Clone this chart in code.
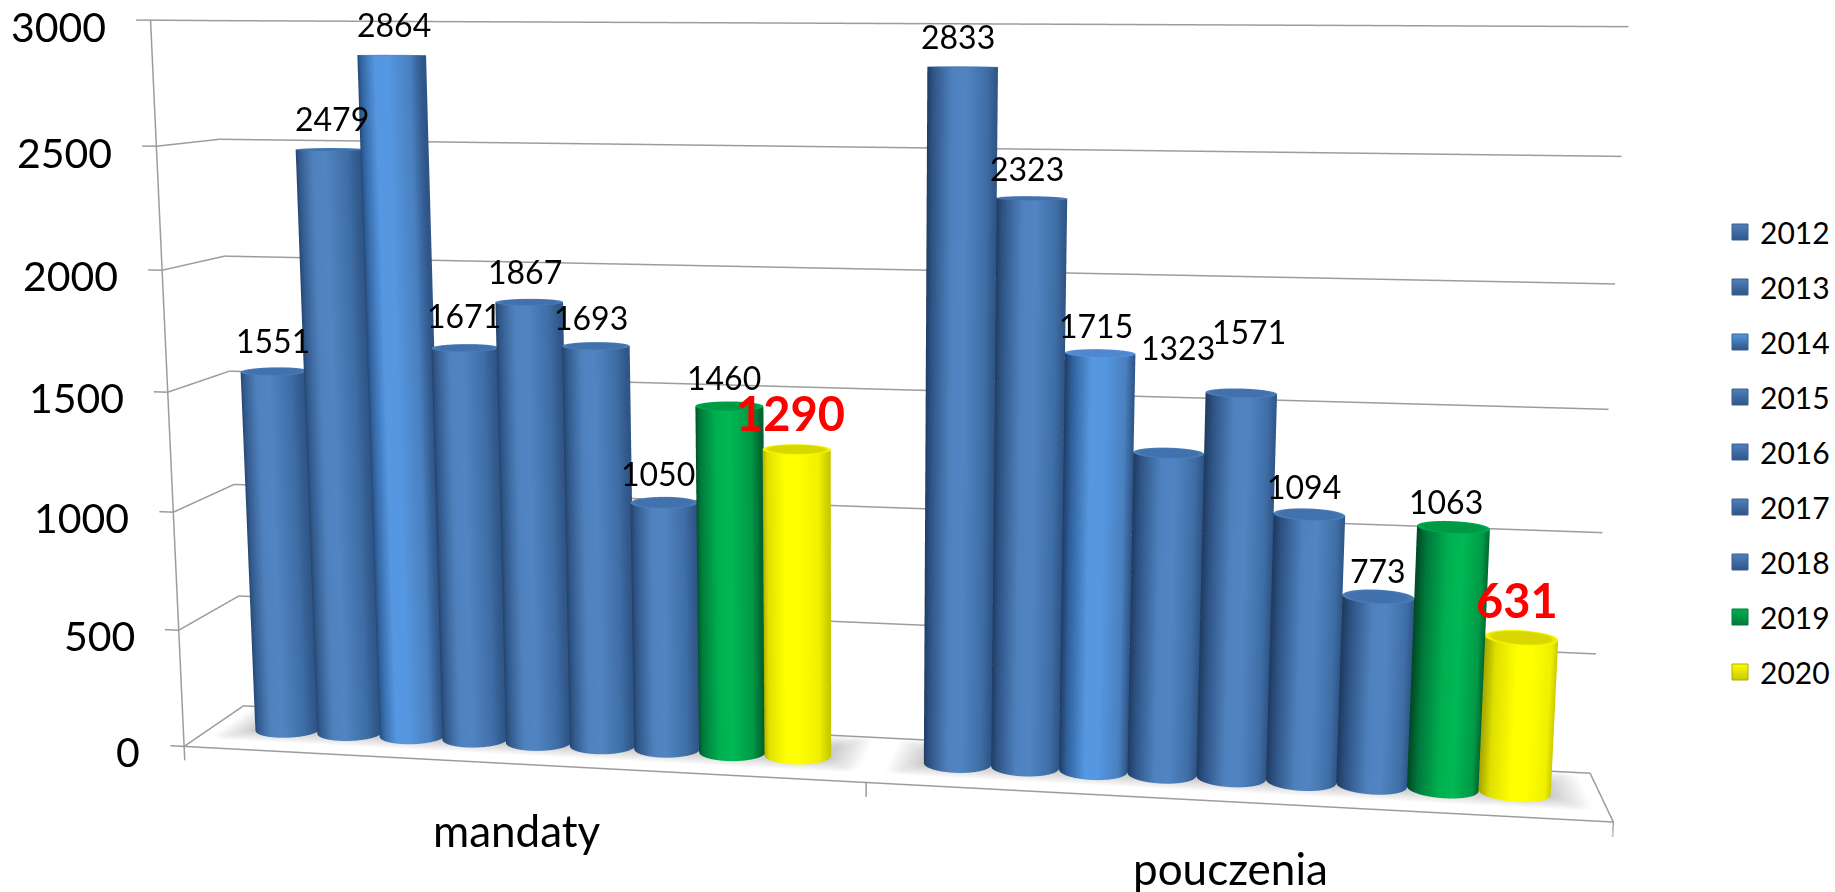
import numpy as np, plotly.graph_objects as go

categories = ["mandaty", "pouczenia"]
years = ["2012","2013","2014","2015","2016","2017","2018","2019","2020"]
mandaty = [1551,2479,2864,1671,1867,1693,1050,1460,1290]
pouczenia = [2833,2323,1715,1323,1571,1094,773,1063,631]
z_ticks = [0,500,1000,1500,2000,2500,3000]
label_dx = [-1,2,2,-1,-4,-5,-6,-5,-6, -5,-5,-4,9,8,-5,0,-7,-5]
label_dy = [31,31,31,32,31,28,29,29,36, 30,30,28,106,62,28,26,26,38]

W=1835; H=1823; TOP=-558
XR=(-0.05,2.0); YR=(-0.1,1.0); ZR=(-100.0,3100.0)
def py2paper(y): return 1-(y-TOP)/H
def px2paper(x): return x/W

traces=[]
gc='#9c9c9c'
def line(xs,ys,zs):
    traces.append(go.Scatter3d(x=xs,y=ys,z=zs,mode='lines',line=dict(color=gc,width=3),showlegend=False,hoverinfo='skip'))
for t in z_ticks:
    line([-0.021,0,0,2],[0,0,1,1],[t,t,t,t])
line([0,0],[0,0],[-60,3000]); line([0,2,2],[0,0,1],[0,0,0]); line([2,2],[0,0],[0,-60]); line([1,1],[0,0],[0,-60])

blue=[[0,'#1f3a5f'],[.12,'#2f5587'],[.4,'#4f81bd'],[.6,'#5185c2'],[.88,'#3f6ea6'],[1,'#2f5587']]
blue2=[[0,'#1f3a5f'],[.12,'#2f5f9a'],[.4,'#5597e0'],[.6,'#5597e0'],[.88,'#4a80c0'],[1,'#2f5587']]
green=[[0,'#004a24'],[.12,'#007a3c'],[.4,'#00b050'],[.6,'#00b854'],[.88,'#009a46'],[1,'#00602f']]
yellow=[[0,'#a8a800'],[.12,'#e0e000'],[.4,'#ffff00'],[.6,'#ffff00'],[.88,'#f0f000'],[1,'#c8c800']]
sty=[blue,blue,blue2,blue,blue,blue,blue,green,yellow]
capc=['#4272ad','#4272ad','#4f88d0','#4272ad','#4272ad','#4272ad','#4272ad','#009a45','#d8d800']
legc=['#4f81bd','#4f81bd','#5597e0','#4f81bd','#4f81bd','#4f81bd','#4f81bd','#00b050','#ffff00']
gap=1.4; pitch=1/(9+gap); ry=0.2; yc=0.5
th=np.linspace(0,2*np.pi,37)
lit=dict(ambient=1,diffuse=0,specular=0,roughness=1,fresnel=0)
annots=[]
for ci,vals in enumerate([mandaty,pouczenia]):
    x0=ci+gap/2*pitch-0.05; x1=ci+1-gap/2*pitch+0.05; y0=0.18; y1=1.0
    SX,SY=np.meshgrid(np.linspace(x0,x1,40),np.linspace(y0,y1,16))
    SC=np.clip(np.minimum(np.minimum(SX-x0,x1-SX)/0.05,np.minimum(SY-y0,y1-SY)/0.25),0,1)
    traces.append(go.Surface(x=SX,y=SY,z=np.full_like(SX,1.0),surfacecolor=SC,colorscale=[[0,'#8c8c8c'],[1,'#8c8c8c']],opacityscale=[[0,0],[1,0.45]],cmin=0,cmax=1,showscale=False,lighting=lit,hoverinfo='skip'))
    for i,v in enumerate(vals):
        cx=ci+(gap/2+i+.5)*pitch; rx=pitch/2
        X=np.array([cx+rx*np.cos(th)]*2);Y=np.array([yc+ry*np.sin(th)]*2);Z=np.array([np.zeros_like(th),np.full_like(th,v)])
        C=np.array([(np.cos(th)+1)/2]*2)
        traces.append(go.Surface(x=X,y=Y,z=Z,surfacecolor=C,colorscale=sty[i],cmin=0,cmax=1,showscale=False,lighting=lit,hoverinfo='skip'))
        rr=np.array([0,.8,1.0])
        XX=cx+np.outer(rr,rx*np.cos(th));YY=yc+np.outer(rr,ry*np.sin(th));ZZ=np.full_like(XX,v)
        traces.append(go.Surface(x=XX,y=YY,z=ZZ,surfacecolor=np.outer(rr,np.ones_like(th)),colorscale=[[0,capc[i]],[.8,capc[i]],[1,legc[i]]],cmin=0,cmax=1,showscale=False,lighting=lit,hoverinfo='skip'))
        big = i==8
        annots.append(dict(x=cx,y=yc,z=v,text=str(v),showarrow=False,xanchor='center',yanchor='middle',xshift=label_dx[ci*9+i],yshift=label_dy[ci*9+i],
            font=dict(family='Lato',size=47 if big else 32,color='#ff0000' if big else '#000000',weight='bold' if big else 'normal')))
for t in z_ticks:
    annots.append(dict(x=-0.021,y=0,z=t,text=str(t),showarrow=False,xanchor='right',yanchor='middle',xshift=-28,yshift=-6,font=dict(family='Lato',size=41,color='#000')))
for ci,name in enumerate(categories):
    annots.append(dict(x=ci+.5,y=0,z=0,text=name,showarrow=False,xanchor='center',yanchor='middle',xshift=0,yshift=-66,font=dict(family='Lato',size=44,color='#000')))
for i,y in enumerate(years):
    traces.append(go.Scatter(x=[None],y=[None],mode='markers',name=y,legendgroup=y,marker=dict(symbol='square',size=16,color=legc[i],gradient=dict(type='vertical',color=('#2f5587' if i<7 else ('#007a3c' if i==7 else '#c8c800'))),line=dict(color='#3a5f8a' if i<7 else ('#007a3c' if i==7 else '#b0b000'),width=1))))
fig=go.Figure(traces)
fig.update_layout(width=W,height=H,margin=dict(l=0,r=0,t=0,b=0),paper_bgcolor='white',plot_bgcolor='white',
  xaxis=dict(visible=False),yaxis=dict(visible=False),
  legend=dict(x=px2paper(1720),y=py2paper(206),xanchor='left',yanchor='top',tracegroupgap=13,font=dict(family='Lato',size=30,color='#000')),
  scene=dict(domain=dict(x=[0,1],y=[0,1]),
    xaxis=dict(visible=False,range=list(XR)),yaxis=dict(visible=False,range=list(YR)),zaxis=dict(visible=False,range=list(ZR)),
    aspectmode='manual',aspectratio=dict(x=1,y=0.10436,z=0.54060),
    camera=dict(eye=dict(x=0.24586,y=-1.45042,z=0.25130),center=dict(x=0.03125,y=0.06074,z=0.02466),up=dict(x=-0.01278,y=0.05819,z=1)),
    annotations=annots))
post=f"""document.documentElement.style.overflow='hidden';document.body.style.margin='0';document.body.style.overflow='hidden';
var d=document.getElementById('{{plot_id}}');d.style.position='absolute';d.style.left='0px';d.style.top='{TOP}px';"""
fig.write_html("out.html",post_script=post)
